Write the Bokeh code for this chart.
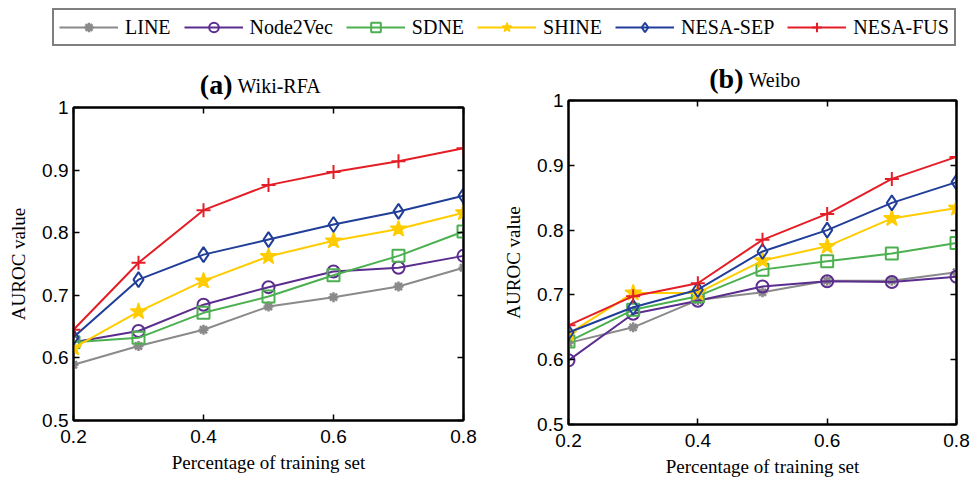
from bokeh.plotting import figure
from bokeh.models import (Range1d, FixedTicker, LinearAxis, Legend, LegendItem,
                          ColumnDataSource)
from bokeh.core.properties import value
from bokeh.layouts import column, row
from bokeh.embed import file_html
from bokeh.resources import INLINE

# ---------------- data ----------------
x_vals = [0.2, 0.3, 0.4, 0.5, 0.6, 0.7, 0.8]
methods = ["LINE", "Node2Vec", "SDNE", "SHINE", "NESA-SEP", "NESA-FUS"]

wiki_line = [0.589, 0.619, 0.645, 0.682, 0.697, 0.714, 0.744]
wiki_node2vec = [0.625, 0.643, 0.685, 0.713, 0.738, 0.744, 0.763]
wiki_sdne = [0.625, 0.632, 0.672, 0.698, 0.732, 0.763, 0.802]
wiki_shine = [0.616, 0.674, 0.723, 0.762, 0.787, 0.806, 0.832]
wiki_nesa_sep = [0.633, 0.725, 0.765, 0.789, 0.813, 0.834, 0.859]
wiki_nesa_fus = [0.645, 0.752, 0.836, 0.876, 0.897, 0.914, 0.935]

weibo_line = [0.626, 0.650, 0.692, 0.704, 0.722, 0.722, 0.735]
weibo_node2vec = [0.599, 0.671, 0.691, 0.713, 0.721, 0.720, 0.728]
weibo_sdne = [0.628, 0.677, 0.698, 0.739, 0.752, 0.764, 0.780]
weibo_shine = [0.640, 0.703, 0.703, 0.753, 0.775, 0.818, 0.834]
weibo_nesa_sep = [0.642, 0.681, 0.708, 0.767, 0.800, 0.842, 0.874]
weibo_nesa_fus = [0.653, 0.698, 0.718, 0.785, 0.825, 0.879, 0.913]

x_ticks = [0.2, 0.4, 0.6, 0.8]
y_ticks = [0.5, 0.6, 0.7, 0.8, 0.9, 1.0]
y_tick_labels = ["0.5", "0.6", "0.7", "0.8", "0.9", "1"]

panel_tags = ["(a)", "(b)"]
panel_names = ["Wiki-RFA", "Weibo"]

# ---------------- styles / layout constants ----------------
colors = ["#8a8a8a", "#5b2d8e", "#4cb050", "#ffcc00", "#213f99", "#e41e26"]
markers = ["asterisk", "circle", "square", "star", "diamond", "cross"]
msizes = [10, 12, 12, 17, 15, 14]
mfill = [False, False, False, True, False, False]
mlw = [2.5, 2, 2, 1.5, 2, 2]

SERIF = "Liberation Serif"
SANS = "Liberation Sans"

W, H = 980, 479
HEADER_H = 106                  # header canvas height
PANEL_TOP = 78                  # panels start here (they overlap the header bottom)
title_split_x = [233, 744]      # pixel x where bold tag ends / name begins
tag_mid_y = [84, 78]            # vertical middle of bold tag (px from header top)
name_mid_y = [85, 79]           # vertical middle of dataset name


def make_panel(series, width, height, bl, br, bt, bb):
    p = figure(width=width, height=height, output_backend="svg", toolbar_location=None,
               x_range=Range1d(0.2, 0.8), y_range=Range1d(0.5, 1.0),
               min_border_left=bl, min_border_right=br, min_border_top=bt,
               min_border_bottom=bb, background_fill_color="white",
               border_fill_color=None)
    p.xgrid.visible = False
    p.ygrid.visible = False
    p.outline_line_color = "black"
    p.outline_line_width = 2

    p.xaxis.ticker = FixedTicker(ticks=x_ticks)
    p.yaxis.ticker = FixedTicker(ticks=y_ticks)
    p.yaxis.major_label_overrides = {t: l for t, l in zip(y_ticks, y_tick_labels)}
    for ax in p.xaxis + p.yaxis:
        ax.major_tick_in = 6
        ax.major_tick_out = 0
        ax.minor_tick_in = 0
        ax.minor_tick_out = 0
        ax.axis_line_color = "black"
        ax.axis_line_width = 2
        ax.major_tick_line_width = 1.5
        ax.major_label_text_font = SANS
        ax.major_label_text_font_size = "19px"
        ax.major_label_text_color = "black"
        ax.axis_label_text_font = SERIF
        ax.axis_label_text_font_size = "19px"
        ax.axis_label_text_font_style = "normal"
        ax.axis_label_text_color = "black"
    p.xaxis.axis_label = "Percentage of training set"
    p.yaxis.axis_label = "AUROC value"
    p.xaxis.major_label_standoff = 9
    p.yaxis.major_label_standoff = 5
    p.xaxis.axis_label_standoff = 6
    p.yaxis.axis_label_standoff = 10

    # box ticks on top and right (labels not drawn)
    top = LinearAxis(ticker=FixedTicker(ticks=x_ticks), major_tick_in=6, major_tick_out=0,
                     minor_tick_in=0, minor_tick_out=0, major_label_text_font_size="1px",
                     major_label_text_color=None,
                     axis_line_color="black", axis_line_width=2, major_tick_line_width=1.5,
                     major_label_standoff=0)
    right = LinearAxis(ticker=FixedTicker(ticks=y_ticks), major_tick_in=6, major_tick_out=0,
                       minor_tick_in=0, minor_tick_out=0, major_label_text_font_size="1px",
                       major_label_text_color=None,
                       axis_line_color="black", axis_line_width=2, major_tick_line_width=1.5,
                       major_label_standoff=0)
    p.add_layout(top, "above")
    p.add_layout(right, "right")

    for i, ys in enumerate(series):
        src = ColumnDataSource(dict(x=x_vals, y=ys))
        p.line("x", "y", source=src, line_color=colors[i], line_width=2)
        p.scatter("x", "y", source=src, marker=markers[i], size=msizes[i],
                  line_color=colors[i], line_width=mlw[i],
                  fill_color=colors[i] if mfill[i] else None)
    return p


wiki_series = [wiki_line, wiki_node2vec, wiki_sdne, wiki_shine, wiki_nesa_sep, wiki_nesa_fus]
weibo_series = [weibo_line, weibo_node2vec, weibo_sdne, weibo_shine, weibo_nesa_sep, weibo_nesa_fus]

panel_h = H - PANEL_TOP
p1 = make_panel(wiki_series, 490, panel_h, 73, 27, 107 - PANEL_TOP, 59)
p2 = make_panel(weibo_series, 490, panel_h, 78, 24, 100 - PANEL_TOP, 55)

# ---------------- header: legend + panel titles ----------------
hdr = figure(width=W, height=HEADER_H, output_backend="svg", toolbar_location=None,
             x_range=Range1d(0, W), y_range=Range1d(HEADER_H, 0),
             x_axis_location=None, y_axis_location=None, min_border=0,
             outline_line_color=None, margin=(0, 0, PANEL_TOP - HEADER_H, 0))
hdr.xgrid.visible = False
hdr.ygrid.visible = False
# ranges that keep the legend's proxy renderers off-screen
hdr.extra_x_ranges = {"off": Range1d(10, 11)}
hdr.extra_y_ranges = {"off": Range1d(10, 11)}

tag_src = ColumnDataSource(dict(x=title_split_x, y=tag_mid_y, t=panel_tags))
name_src = ColumnDataSource(dict(x=title_split_x, y=name_mid_y, t=panel_names))
hdr.text("x", "y", text="t", source=tag_src, text_font=value(SERIF), text_font_style="bold",
         text_font_size=value("28px"), text_align="right", text_baseline="middle",
         text_color="black", x_offset=-1)
hdr.text("x", "y", text="t", source=name_src, text_font=value(SERIF),
         text_font_size=value("20px"), text_align="left", text_baseline="middle",
         text_color="black", x_offset=4)

items = []
for i, name in enumerate(methods):
    src = ColumnDataSource(dict(x=x_vals, y=wiki_series[i]))
    lr = hdr.line("x", "y", source=src, line_color=colors[i], line_width=2,
                  x_range_name="off", y_range_name="off")
    sr = hdr.scatter("x", "y", source=src, marker=markers[i], size=msizes[i],
                     line_color=colors[i], line_width=mlw[i],
                     fill_color=colors[i] if mfill[i] else None,
                     x_range_name="off", y_range_name="off")
    items.append(LegendItem(label=name, renderers=[lr, sr]))
legend = Legend(items=items, orientation="horizontal", location=(52, HEADER_H - 46),
                glyph_width=59, glyph_height=24, label_height=16, label_standoff=7,
                spacing=13, padding=5, margin=0, border_line_color="black",
                border_line_width=2, label_text_font=SERIF, label_text_font_size="20px",
                label_text_color="black", label_text_baseline="middle",
                background_fill_color="white")
hdr.add_layout(legend, "center")

layout = column(hdr, row(column(p1), column(p2)))
open("out.html", "w").write(file_html(layout, INLINE))
